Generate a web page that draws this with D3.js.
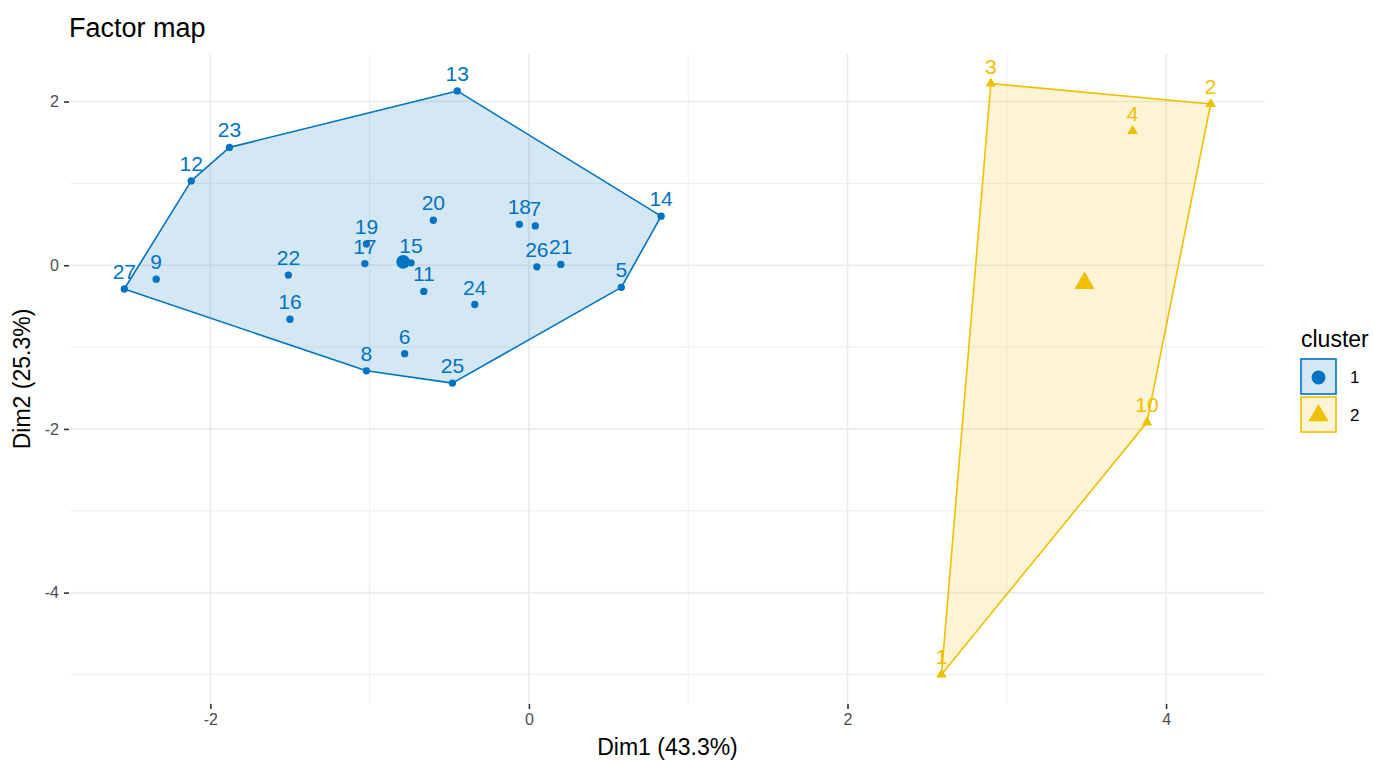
<html>
<head>
<style>
  body { margin: 0; background: #fff; }
  text { font-family: "Liberation Sans", Arial, sans-serif; }
</style>
</head>
<body>
<svg id="chart" width="1373" height="760"></svg>
<script src="https://d3js.org/d3.v7.min.js"></script>
<script>
// individuals on the first two dimensions
const ids = ["1","2","3","4","5","6","7","8","9","10","11","12","13","14","15","16","17","18","19","20","21","22","23","24","25","26","27"]
const dim1 = [2.59, 4.28, 2.90, 3.79, 0.58, -0.78, 0.04, -1.02, -2.34, 3.88, -0.66, -2.12, -0.45, 0.83, -0.74, -1.50, -1.03, -0.06, -1.02, -0.60, 0.20, -1.51, -1.88, -0.34, -0.48, 0.05, -2.54]
const dim2 = [-5.00, 1.97, 2.22, 1.64, -0.27, -1.08, 0.48, -1.29, -0.17, -1.92, -0.32, 1.03, 2.13, 0.60, 0.03, -0.66, 0.02, 0.50, 0.26, 0.55, 0.01, -0.12, 1.44, -0.48, -1.44, -0.02, -0.29]
const cluster = ["2","2","2","2","1","1","1","1","1","2","1","1","1","1","1","1","1","1","1","1","1","1","1","1","1","1","1"]

const clusters = ["1", "2"]
const colors = ["#0073C2", "#EFC000"]
const xTicks = [-2, 0, 2, 4]
const yTicks = [2, 0, -2, -4]

const svg = d3.select("#chart")
const panel = {left: 70, right: 1265, top: 54, bottom: 704}

// ggplot style 5% expansion
function expand(ext) {
    let pad = (ext[1] - ext[0]) * 0.05
    return [ext[0] - pad, ext[1] + pad]
}
const x = d3.scaleLinear().domain(expand(d3.extent(dim1))).range([panel.left, panel.right])
const y = d3.scaleLinear().domain(expand(d3.extent(dim2))).range([panel.bottom, panel.top])
const color = d3.scaleOrdinal().domain(clusters).range(colors)

let points = ids.map((id, i) => ({id: id, x: dim1[i], y: dim2[i], cluster: cluster[i]}))

// grid lines (major + minor)
let grid = svg.append("g")
let xMinor = d3.range(-2, 5, 1)
let yMinor = d3.range(-5, 3, 1)
grid.selectAll(".vx").data(xMinor).enter().append("line")
    .attr("x1", d => x(d)).attr("x2", d => x(d))
    .attr("y1", panel.top).attr("y2", panel.bottom)
    .attr("stroke", "#ebebeb")
    .attr("stroke-width", d => xTicks.includes(d) ? 1.6 : 0.9)
grid.selectAll(".hy").data(yMinor).enter().append("line")
    .attr("y1", d => y(d)).attr("y2", d => y(d))
    .attr("x1", panel.left).attr("x2", panel.right)
    .attr("stroke", "#ebebeb")
    .attr("stroke-width", d => yTicks.includes(d) ? 1.6 : 0.9)

// axes
svg.append("g")
    .attr("transform", `translate(0,${panel.bottom})`)
    .call(d3.axisBottom(x).tickValues(xTicks).tickSize(5).tickPadding(5).tickFormat(d => String(d)))
svg.append("g")
    .attr("transform", `translate(${panel.left - 1},0)`)
    .call(d3.axisLeft(y).tickValues(yTicks).tickSize(5).tickPadding(5).tickFormat(d => String(d)))
svg.selectAll(".domain").remove()
svg.selectAll(".tick line").attr("stroke", "#333").attr("stroke-width", 1.6)
svg.selectAll(".tick text").attr("fill", "#4d4d4d").style("font-size", "16px")

// hulls
let hulls = svg.append("g")
clusters.forEach(c => {
    let pts = points.filter(p => p.cluster === c).map(p => [x(p.x), y(p.y)])
    let hull = d3.polygonHull(pts)
    hulls.append("path")
        .attr("d", "M" + hull.join("L") + "Z")
        .attr("fill", color(c))
        .attr("fill-opacity", 0.17)
        .attr("stroke", color(c))
        .attr("stroke-width", 1.6)
        .attr("stroke-linejoin", "round")
})

// points
let symbol = c => c === "1" ? d3.symbolCircle : d3.symbolTriangle
svg.append("g").selectAll("path").data(points).enter().append("path")
    .attr("transform", d => `translate(${x(d.x)},${y(d.y)})`)
    .attr("d", d => d3.symbol().type(symbol(d.cluster)).size(d.cluster === "1" ? 42 : 48)())
    .attr("fill", d => color(d.cluster))

// cluster centers
let centers = clusters.map(c => {
    let sub = points.filter(p => p.cluster === c)
    return {cluster: c, x: d3.mean(sub, p => p.x), y: d3.mean(sub, p => p.y)}
})
svg.append("g").selectAll("path").data(centers).enter().append("path")
    .attr("transform", d => `translate(${x(d.x)},${y(d.y)})`)
    .attr("d", d => d3.symbol().type(symbol(d.cluster)).size(d.cluster === "1" ? 150 : 175)())
    .attr("fill", d => color(d.cluster))

// labels
svg.append("g").selectAll("text").data(points).enter().append("text")
    .attr("x", d => x(d.x))
    .attr("y", d => y(d.y) - 10)
    .attr("text-anchor", "middle")
    .attr("fill", d => color(d.cluster))
    .style("font-size", "21px")
    .text(d => d.id)

// title + axis titles
svg.append("text").attr("x", 69).attr("y", 37).style("font-size", "27px").attr("fill", "#000").text("Factor map")
svg.append("text").attr("x", (panel.left + panel.right) / 2).attr("y", 755)
    .attr("text-anchor", "middle").style("font-size", "23px").text("Dim1 (43.3%)")
svg.append("text").attr("transform", `translate(30,${(panel.top + panel.bottom) / 2}) rotate(-90)`)
    .attr("text-anchor", "middle").style("font-size", "23px").text("Dim2 (25.3%)")

// legend
let legend = svg.append("g").attr("transform", "translate(1300,0)")
legend.append("text").attr("x", 1).attr("y", 347).style("font-size", "23px").text("cluster")
clusters.forEach((c, i) => {
    let g = legend.append("g").attr("transform", `translate(0,${359 + i * 38})`)
    g.append("rect").attr("x", 1).attr("y", 0).attr("width", 35).attr("height", 35)
        .attr("fill", color(c)).attr("fill-opacity", 0.17)
        .attr("stroke", color(c)).attr("stroke-width", 1.6)
    g.append("path").attr("transform", "translate(18.5,18.5)")
        .attr("d", d3.symbol().type(symbol(c)).size(c === "1" ? 150 : 175)())
        .attr("fill", color(c))
    g.append("text").attr("x", 50).attr("y", 24).style("font-size", "17px").attr("fill", "#000").text(c)
})
</script>
</body>
</html>
